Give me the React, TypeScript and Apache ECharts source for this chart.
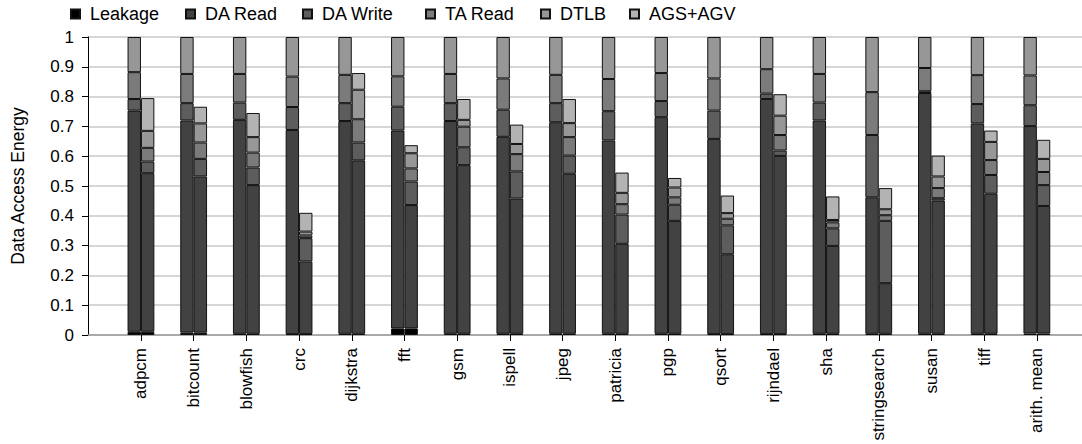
import React, { useEffect, useRef } from "react";
import * as echarts from "echarts";

const categories = [
  "adpcm", "bitcount", "blowfish", "crc", "dijkstra", "fft", "gsm", "ispell", "jpeg",
  "patricia", "pgp", "qsort", "rijndael", "sha", "stringsearch", "susan", "tiff", "arith. mean",
];
const yTicks = ["0", "0.1", "0.2", "0.3", "0.4", "0.5", "0.6", "0.7", "0.8", "0.9", "1"];

const leakage = [0.011, 0.008, 0.004, 0.003, 0.004, 0.022, 0.004, 0.004, 0.004, 0.004, 0.004, 0.003, 0.003, 0.004, 0.004, 0.004, 0.004, 0.005];

const daReadBase = [0.742, 0.712, 0.718, 0.685, 0.714, 0.664, 0.714, 0.661, 0.71, 0.649, 0.727, 0.655, 0.789, 0.716, 0.458, 0.808, 0.706, 0.696];
const daWriteBase = [0.039, 0.058, 0.058, 0.077, 0.06, 0.08, 0.06, 0.091, 0.064, 0.098, 0.054, 0.095, 0.018, 0.06, 0.209, 0.006, 0.065, 0.07];
const taReadBase = [0.09, 0.098, 0.096, 0.102, 0.095, 0.102, 0.098, 0.105, 0.095, 0.108, 0.094, 0.108, 0.082, 0.096, 0.144, 0.078, 0.097, 0.1];
const dtlbBase = [0.118, 0.124, 0.124, 0.133, 0.127, 0.132, 0.124, 0.139, 0.127, 0.141, 0.121, 0.139, 0.108, 0.124, 0.185, 0.104, 0.128, 0.129];

const daReadNew = [0.532, 0.524, 0.499, 0.244, 0.582, 0.414, 0.566, 0.454, 0.537, 0.302, 0.379, 0.268, 0.598, 0.295, 0.17, 0.447, 0.47, 0.428];
const daWriteNew = [0.039, 0.059, 0.059, 0.078, 0.06, 0.079, 0.06, 0.091, 0.061, 0.098, 0.054, 0.097, 0.018, 0.059, 0.209, 0.008, 0.063, 0.07];
const taReadNew = [0.046, 0.055, 0.05, 0.009, 0.078, 0.044, 0.069, 0.058, 0.062, 0.035, 0.025, 0.022, 0.052, 0.02, 0.019, 0.034, 0.05, 0.044];
const dtlbNew = [0.057, 0.064, 0.052, 0.013, 0.099, 0.051, 0.023, 0.034, 0.047, 0.038, 0.033, 0.019, 0.065, 0.008, 0.02, 0.039, 0.061, 0.044];
const agsNew = [0.11, 0.056, 0.081, 0.063, 0.056, 0.027, 0.07, 0.065, 0.081, 0.068, 0.032, 0.059, 0.072, 0.079, 0.071, 0.07, 0.038, 0.064];

const names = ["Leakage", "DA Read", "DA Write", "TA Read", "DTLB", "AGS+AGV"];
const colors = ["#000000", "#424242", "#5d5d5d", "#7b7b7b", "#979797", "#b3b3b3"];
const legendLeft = [70, 185, 302, 425, 540, 629];

const FONT = "'Liberation Sans', Arial, Helvetica, sans-serif";

export default function App() {
  const ref = useRef<HTMLDivElement>(null);
  useEffect(() => {
    if (!ref.current) return;
    const chart = echarts.init(ref.current, null, { renderer: "svg" });
    const baseData = [leakage, daReadBase, daWriteBase, taReadBase, dtlbBase];
    const newData = [leakage, daReadNew, daWriteNew, taReadNew, dtlbNew, agsNew];
    const mk = (name: string, color: string, data: number[], stack: string) => ({
      type: "bar",
      name,
      stack,
      data,
      xAxisIndex: 1,
      yAxisIndex: 1,
      barWidth: 13.4,
      barGap: "0%",
      itemStyle: { color, borderColor: "#111", borderWidth: 1 },
    });
    const series: any[] = [];
    baseData.forEach((d, i) => series.push(mk(names[i], colors[i], d, "base")));
    newData.forEach((d, i) => series.push(mk(names[i], colors[i], d, "new")));

    const option: any = {
      animation: false,
      textStyle: { fontFamily: FONT },
      legend: names.map((n, i) => ({
        data: [n],
        left: legendLeft[i],
        top: 5,
        padding: 0,
        icon: "rect",
        itemWidth: 9,
        itemHeight: 9,
        selectedMode: false,
        textStyle: { fontSize: 18, color: "#000", fontFamily: FONT, padding: [0, 0, 0, 5] },
      })),
      grid: [
        { left: 88, right: 0, top: 37, height: 298 },
        { left: 114.6, width: 948.6, top: 37, height: 298 },
      ],
      xAxis: [
        {
          gridIndex: 0,
          type: "value",
          min: 0,
          max: 1,
          axisLine: { show: true, lineStyle: { color: "#9a9a9a", width: 1.5 } },
          axisTick: { show: false },
          axisLabel: { show: false },
          splitLine: { show: false },
        },
        {
          gridIndex: 1,
          type: "category",
          data: categories,
          axisLine: { show: false },
          axisTick: { show: true, alignWithLabel: true, length: 6, lineStyle: { color: "#000" } },
          axisLabel: { rotate: 90, fontSize: 17, color: "#000", margin: 13, fontFamily: FONT, interval: 0 },
        },
      ],
      yAxis: [
        {
          gridIndex: 0,
          type: "value",
          min: 0,
          max: 1,
          interval: 0.1,
          name: "Data Access Energy",
          nameLocation: "middle",
          nameRotate: 90,
          nameGap: 61,
          nameTextStyle: { fontSize: 17.5, color: "#000", fontFamily: FONT },
          axisLine: { show: true, lineStyle: { color: "#000", width: 1 } },
          axisTick: { show: true, length: 6, lineStyle: { color: "#000" } },
          axisLabel: {
            fontSize: 17,
            color: "#000",
            margin: 14,
            fontFamily: FONT,
            formatter: (v: number) => yTicks[Math.round(v * 10)],
          },
          splitLine: { show: true, lineStyle: { color: "#c8c8c8", width: 1.5 } },
        },
        {
          gridIndex: 1,
          type: "value",
          min: 0,
          max: 1,
          show: false,
          splitLine: { show: false },
        },
      ],
      series,
    };
    chart.setOption(option);
    return () => chart.dispose();
  }, []);
  return <div ref={ref} style={{ position: "absolute", left: 0, top: 0, width: 1082, height: 444 }} />;
}
